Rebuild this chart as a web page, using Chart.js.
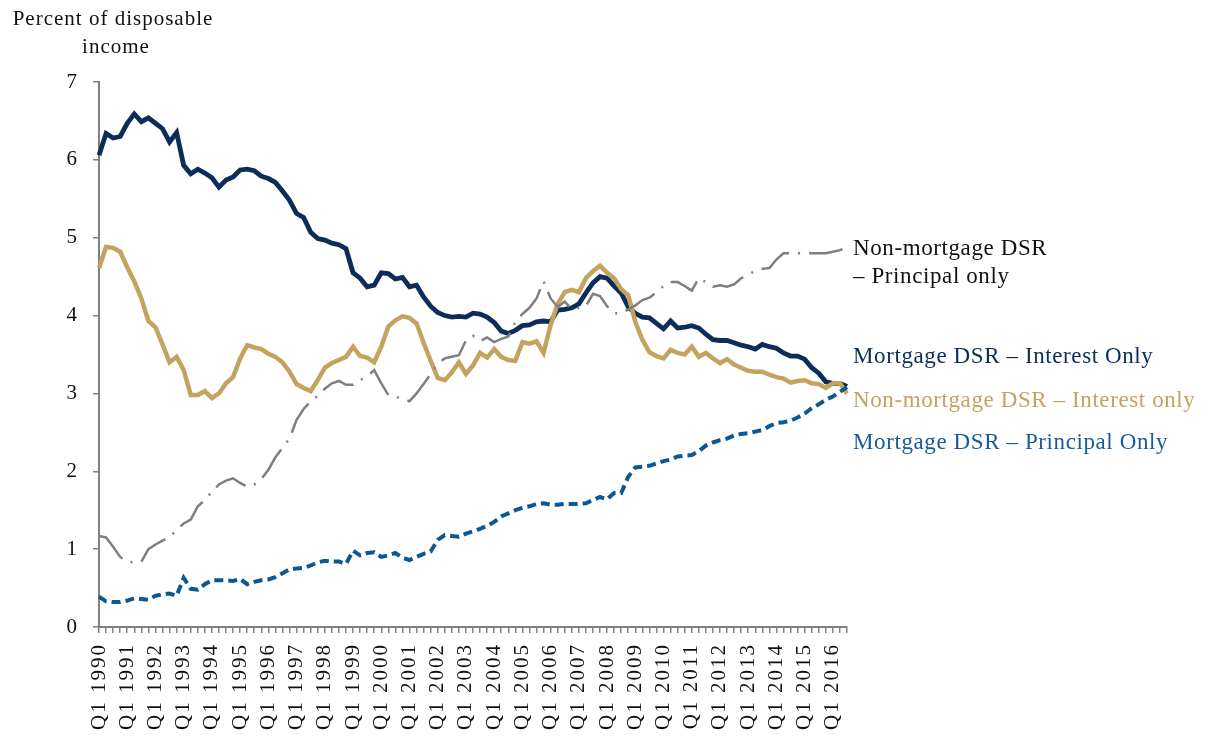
<!DOCTYPE html>
<html>
<head>
<meta charset="utf-8">
<script src="https://cdn.jsdelivr.net/npm/chart.js@4.4.1/dist/chart.umd.min.js"></script>
<style>
	body { margin: 0; background: #fff; }
	#wrap { width: 1207px; height: 738px; }
</style>
</head>
<body>
<div id="wrap"><canvas id="dsrChart" width="1207" height="738"></canvas></div>
<script>
// Quarters Q1 1990 .. Q3 2016
const quarters = [];
for (let y = 1990; y <= 2016; y++) {
	for (let q = 1; q <= 4; q++) {
		if (y === 2016 && q > 3) break;
		quarters.push('Q' + q + ' ' + y);
	}
}

const yTicks = [0, 1, 2, 3, 4, 5, 6, 7];

const mortgageInterest = [
	6.06, 6.34, 6.28, 6.30, 6.47, 6.59, 6.49, 6.54, 6.47, 6.40, 6.23, 6.35,
	5.93, 5.82, 5.88, 5.83, 5.77, 5.65, 5.74, 5.78, 5.87, 5.88, 5.86, 5.79,
	5.76, 5.71, 5.60, 5.48, 5.31, 5.26, 5.07, 4.99, 4.97, 4.93, 4.91, 4.86,
	4.55, 4.48, 4.37, 4.39, 4.55, 4.54, 4.47, 4.49, 4.37, 4.39, 4.24, 4.12,
	4.04, 4.00, 3.98, 3.99, 3.98, 4.03, 4.02, 3.98, 3.91, 3.80, 3.77, 3.81,
	3.87, 3.88, 3.92, 3.93, 3.92, 4.07, 4.08, 4.10, 4.15, 4.29, 4.42, 4.50,
	4.48, 4.38, 4.29, 4.11, 4.03, 3.98, 3.97, 3.90, 3.83, 3.93, 3.84, 3.85,
	3.87, 3.84, 3.76, 3.69, 3.68, 3.68, 3.65, 3.62, 3.60, 3.57, 3.63, 3.60,
	3.58, 3.52, 3.48, 3.48, 3.44, 3.33, 3.26, 3.15, 3.13, 3.13, 3.09
];

const nonMortgageInterest = [
	4.61, 4.88, 4.87, 4.82, 4.62, 4.44, 4.22, 3.93, 3.85, 3.63, 3.40, 3.47,
	3.30, 2.98, 2.98, 3.03, 2.94, 3.00, 3.13, 3.21, 3.45, 3.62, 3.59, 3.57,
	3.51, 3.47, 3.40, 3.28, 3.12, 3.07, 3.03, 3.17, 3.33, 3.39, 3.43, 3.47,
	3.60, 3.48, 3.46, 3.40, 3.60, 3.86, 3.94, 3.99, 3.97, 3.90, 3.65, 3.42,
	3.20, 3.17, 3.27, 3.40, 3.25, 3.36, 3.52, 3.46, 3.57, 3.47, 3.43, 3.42,
	3.66, 3.64, 3.67, 3.52, 3.88, 4.15, 4.30, 4.33, 4.30, 4.48, 4.57, 4.64,
	4.55, 4.48, 4.34, 4.26, 3.92, 3.69, 3.53, 3.48, 3.45, 3.56, 3.52, 3.50,
	3.60, 3.47, 3.52, 3.45, 3.39, 3.44, 3.37, 3.33, 3.29, 3.28, 3.28, 3.24,
	3.21, 3.19, 3.14, 3.16, 3.17, 3.13, 3.12, 3.07, 3.13, 3.13, 3.00
];

const mortgagePrincipal = [
	0.39, 0.33, 0.32, 0.32, 0.34, 0.37, 0.36, 0.35, 0.40, 0.42, 0.43, 0.40,
	0.63, 0.49, 0.48, 0.55, 0.60, 0.60, 0.60, 0.59, 0.62, 0.55, 0.58, 0.60,
	0.61, 0.64, 0.69, 0.74, 0.75, 0.76, 0.79, 0.83, 0.85, 0.84, 0.84, 0.81,
	0.98, 0.92, 0.95, 0.96, 0.90, 0.92, 0.95, 0.89, 0.86, 0.90, 0.94, 0.97,
	1.12, 1.18, 1.17, 1.16, 1.20, 1.23, 1.26, 1.30, 1.35, 1.42, 1.46, 1.50,
	1.53, 1.55, 1.58, 1.59, 1.57, 1.57, 1.58, 1.58, 1.58, 1.59, 1.63, 1.67,
	1.64, 1.72, 1.72, 1.93, 2.05, 2.06, 2.07, 2.10, 2.13, 2.15, 2.19, 2.20,
	2.21, 2.26, 2.33, 2.37, 2.40, 2.42, 2.46, 2.48, 2.49, 2.51, 2.53, 2.58,
	2.62, 2.63, 2.65, 2.69, 2.74, 2.81, 2.86, 2.92, 2.96, 3.02, 3.08
];

const nonMortgagePrincipal = [
	1.17, 1.15, 1.03, 0.90, 0.84, 0.83, 0.84, 1.00, 1.06, 1.11, 1.15, 1.25,
	1.33, 1.38, 1.55, 1.63, 1.74, 1.83, 1.88, 1.91, 1.85, 1.80, 1.83, 1.90,
	2.02, 2.18, 2.30, 2.42, 2.66, 2.80, 2.90, 2.97, 3.06, 3.13, 3.16, 3.11,
	3.11, 3.17, 3.22, 3.30, 3.13, 2.98, 2.96, 2.93, 2.90, 3.00, 3.12, 3.25,
	3.38, 3.45, 3.47, 3.49, 3.68, 3.74, 3.67, 3.72, 3.66, 3.70, 3.73, 3.92,
	4.02, 4.10, 4.22, 4.44, 4.22, 4.11, 4.18, 4.08, 4.10, 4.12, 4.28, 4.25,
	4.12, 4.03, 4.03, 4.08, 4.13, 4.20, 4.23, 4.30, 4.38, 4.43, 4.43, 4.38,
	4.32, 4.48, 4.43, 4.37, 4.39, 4.37, 4.40, 4.48, 4.53, 4.57, 4.60, 4.61,
	4.72, 4.80, 4.80, 4.80, 4.80, 4.80, 4.80, 4.80, 4.82, 4.84, 4.88
];

const seriesLabels = [
	{ lines: ['Non-mortgage DSR', '\u2013 Principal only'], color: '#111111', y: [249, 277] },
	{ lines: ['Mortgage DSR \u2013 Interest Only'], color: '#0c2d57', y: [357] },
	{ lines: ['Non-mortgage DSR \u2013 Interest only'], color: '#c4a35e', y: [401] },
	{ lines: ['Mortgage DSR \u2013 Principal Only'], color: '#1a5a96', y: [443] },
];

const FONT = '"Liberation Serif", "DejaVu Serif", serif';
const AXIS_GREY = '#808080';

// Widen the tick text a little (reference font is a wide Garamond)
const spacingPlugin = {
	id: 'spacingPlugin',
	beforeDraw(chart) {
		chart.ctx.letterSpacing = '2px';
	},
};

// Axis title and line labels drawn onto the canvas
const textPlugin = {
	id: 'textPlugin',
	afterDraw(chart) {
		const ctx = chart.ctx;
		ctx.save();
		ctx.textBaseline = 'middle';
		ctx.fillStyle = '#111';
		ctx.letterSpacing = '1px';
		ctx.font = '21px ' + FONT;
		ctx.textAlign = 'center';
		ctx.fillText('Percent of disposable', 113, 19);
		ctx.fillText('income', 116, 47);

		ctx.textAlign = 'left';
		ctx.letterSpacing = '0.6px';
		ctx.font = '23px ' + FONT;
		seriesLabels.forEach((s) => {
			ctx.fillStyle = s.color;
			s.lines.forEach((line, i) => ctx.fillText(line, 853, s.y[i]));
		});
		ctx.restore();
	},
};

new Chart(document.getElementById('dsrChart'), {
	type: 'line',
	data: {
		labels: quarters,
		datasets: [
			{
				label: 'Non-mortgage DSR – Principal only',
				data: nonMortgagePrincipal,
				borderColor: '#7f7f7f',
				borderWidth: 2.5,
				borderDash: [34, 9, 2, 9],
				pointRadius: 0,
				tension: 0,
			},
			{
				label: 'Mortgage DSR – Principal Only',
				data: mortgagePrincipal,
				borderColor: '#0b5895',
				borderWidth: 4,
				borderDash: [9, 5],
				pointRadius: 0,
				tension: 0,
			},
			{
				label: 'Non-mortgage DSR – Interest only',
				data: nonMortgageInterest,
				borderColor: '#c4a35e',
				borderWidth: 4.5,
				pointRadius: 0,
				tension: 0,
			},
			{
				label: 'Mortgage DSR – Interest Only',
				data: mortgageInterest,
				borderColor: '#0c2d57',
				borderWidth: 4.8,
				pointRadius: 0,
				tension: 0,
			},
		],
	},
	options: {
		responsive: false,
		animation: false,
		layout: { padding: { top: 82, right: 360, left: 0, bottom: 0 } },
		plugins: {
			legend: { display: false },
			tooltip: { enabled: false },
		},
		scales: {
			x: {
				offset: false,
				border: { color: AXIS_GREY, width: 2 },
				grid: { drawOnChartArea: false, drawTicks: true, tickLength: 6, color: AXIS_GREY, lineWidth: 1.5 },
				ticks: {
					autoSkip: false,
					maxRotation: 90,
					minRotation: 90,
					padding: 10,
					color: '#111',
					font: { family: FONT, size: 21 },
					callback: function (value, index) {
						return index % 4 === 0 ? quarters[index] : '';
					},
				},
				afterFit: (scale) => { scale.height = 111; },
			},
			y: {
				min: 0,
				max: 7,
				border: { color: AXIS_GREY, width: 2 },
				grid: { drawOnChartArea: false, drawTicks: true, tickLength: 6, color: AXIS_GREY, lineWidth: 1.5 },
				afterBuildTicks: (scale) => { scale.ticks = yTicks.map((v) => ({ value: v })); },
				ticks: {
					padding: 14,
					color: '#111',
					font: { family: FONT, size: 21 },
				},
				afterFit: (scale) => { scale.width = 99; },
			},
		},
	},
	plugins: [spacingPlugin, textPlugin],
});
</script>
</body>
</html>
